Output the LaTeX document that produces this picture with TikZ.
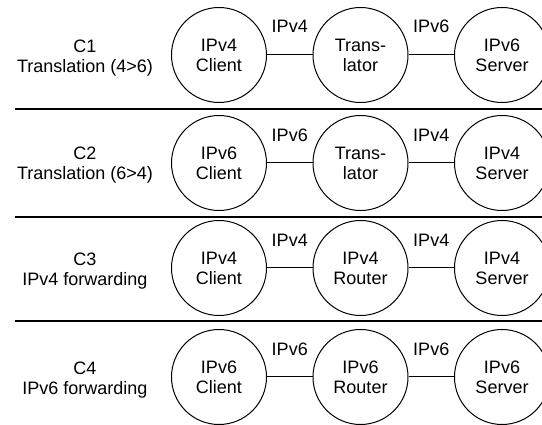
\documentclass[tikz,border=0pt]{standalone}
\usepackage{fontspec}
\setmainfont{Liberation Sans}
\tikzset{
    label font/.style={font=\fontsize{18}{20}\selectfont},
    host/.style={circle,draw,line width=1pt,minimum size=95pt,inner sep=0pt,align=center,label font},
    case/.style={align=center,label font},
    proto/.style={inner sep=0pt,label font},
    link/.style={line width=1pt},
    rule/.style={line width=1.4pt}
}
\begin{document}
\begin{tikzpicture}[x=1pt,y=-1pt]
        \useasboundingbox (0,0) rectangle (542,425);
        \node[case](c1)at(85,58){C1\\Translation (4>6)};
        \node[host](c1a)at(219,55){IPv4\\Client};
        \node[host](c1b)at(360.5,55){Trans-\\lator};
        \node[host](c1c)at(502,55){IPv6\\Server};
        \draw[link] (c1a)--node[proto,yshift=29pt]{IPv4}(c1b);
        \draw[link] (c1b)--node[proto,yshift=29pt]{IPv6}(c1c);
        \draw[rule] (15,109)--(542,109);
        \node[case](c2)at(85,165){C2\\Translation (6>4)};
        \node[host](c2a)at(219,163){IPv6\\Client};
        \node[host](c2b)at(360.5,163){Trans-\\lator};
        \node[host](c2c)at(502,163){IPv4\\Server};
        \draw[link] (c2a)--node[proto,yshift=28pt]{IPv6}(c2b);
        \draw[link] (c2b)--node[proto,yshift=28pt]{IPv4}(c2c);
        \draw[rule] (15,217)--(542,217);
        \node[case](c3)at(85,271){C3\\IPv4 forwarding};
        \node[host](c3a)at(219,268){IPv4\\Client};
        \node[host](c3b)at(360.5,268){IPv4\\Router};
        \node[host](c3c)at(502,268){IPv4\\Server};
        \draw[link] (c3a)--node[proto,yshift=28pt]{IPv4}(c3b);
        \draw[link] (c3b)--node[proto,yshift=28pt]{IPv4}(c3c);
        \draw[rule] (15,321)--(542,321);
        \node[case](c4)at(85,380){C4\\IPv6 forwarding};
        \node[host](c4a)at(219,377){IPv6\\Client};
        \node[host](c4b)at(360.5,377){IPv6\\Router};
        \node[host](c4c)at(502,377){IPv6\\Server};
        \draw[link] (c4a)--node[proto,yshift=28pt]{IPv6}(c4b);
        \draw[link] (c4b)--node[proto,yshift=28pt]{IPv6}(c4c);
    \end{tikzpicture}
\end{document}
